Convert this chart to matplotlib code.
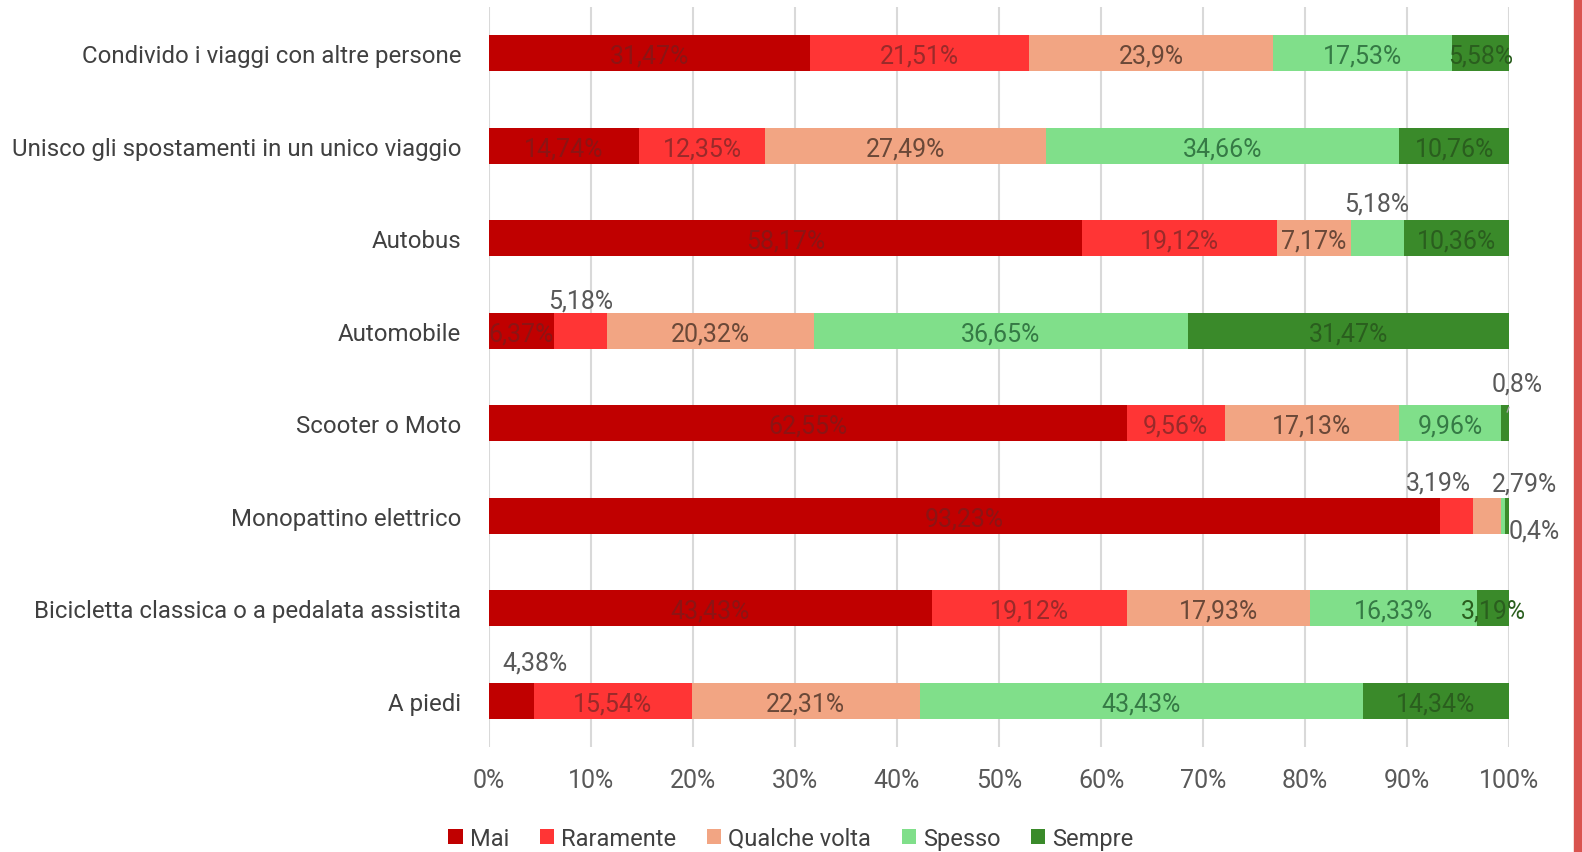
import numpy as np
import matplotlib.pyplot as plt
from matplotlib.patches import Rectangle

# Data (percentages per category)
categories = ['Condivido i viaggi con altre persone',
              'Unisco gli spostamenti in un unico viaggio',
              'Autobus',
              'Automobile',
              'Scooter o Moto',
              'Monopattino elettrico',
              'Bicicletta classica o a pedalata assistita',
              'A piedi']
series_names = ['Mai', 'Raramente', 'Qualche volta', 'Spesso', 'Sempre']
mai = [31.47, 14.74, 58.17, 6.37, 62.55, 93.23, 43.43, 4.38]
raramente = [21.51, 12.35, 19.12, 5.18, 9.56, 3.19, 19.12, 15.54]
qualche_volta = [23.9, 27.49, 7.17, 20.32, 17.13, 2.79, 17.93, 22.31]
spesso = [17.53, 34.66, 5.18, 36.65, 9.96, 0.4, 16.33, 43.43]
sempre = [5.58, 10.76, 10.36, 31.47, 0.8, 0.4, 3.19, 14.34]
x_ticks = [0, 10, 20, 30, 40, 50, 60, 70, 80, 90, 100]

colors = ['#c00000', '#ff3535', '#f2a583', '#80df8a', '#3a8a2a']
label_colors = ['#8c1414', '#9a2a2a', '#6a4838', '#357a45', '#2a5e1e']

# labels drawn outside the bar: (row, series) -> (dx in %, dy in rows)
outside = {
    (2, 3): (0, -0.40),
    (3, 1): (0, -0.35),
    (7, 0): (2.3, -0.44),
    (5, 1): (-1.8, -0.39),
    (5, 2): (3.7, -0.38),
    (5, 3): (3.0, 0.13),
}
hidden = {(5, 4)}

plt.rcParams['font.family'] = ['Roboto', 'DejaVu Sans']

fig = plt.figure(figsize=(15.82, 8.53), dpi=100)
ax = fig.add_axes([0.309, 0.1231, 0.645, 0.8675])

data = [mai, raramente, qualche_volta, spesso, sempre]
y = np.arange(len(categories))
left = np.zeros(len(categories))
for s, (name, vals) in enumerate(zip(series_names, data)):
    vals = np.array(vals)
    ax.barh(y, vals, left=left, height=0.39, color=colors[s], label=name, zorder=2)
    for i, v in enumerate(vals):
        cx = left[i] + v / 2
        lab = f"{v:g}%".replace('.', ',')
        if (i, s) in hidden:
            continue
        if (i, s) in outside:
            dx, dy = outside[(i, s)]
            ax.text(cx + dx, y[i] + dy, lab, ha='center', va='center_baseline',
                    fontsize=18, color='#595959', zorder=3)
        elif i == 4 and s == 4:
            # small value with leader line
            ax.annotate(lab, xy=(cx + 0.2, y[i] - 0.12), xytext=(cx + 1.2, y[i] - 0.46),
                        ha='center', va='center_baseline', fontsize=18, color='#595959',
                        arrowprops=dict(arrowstyle='-', color='#a6a6a6', lw=1,
                                        shrinkA=7, shrinkB=0), zorder=3)
        else:
            ax.text(cx, y[i], lab, ha='center', va='center_baseline', fontsize=18,
                    color=label_colors[s], zorder=3)
    left += vals

ax.set_xlim(0, 100)
ax.set_ylim(len(categories) - 0.5, -0.5)
ax.set_xticks(x_ticks)
ax.set_xticklabels([f"{t}%" for t in x_ticks], fontsize=18, color='#595959')
ax.set_yticks(y)
ax.set_yticklabels(categories, fontsize=17.3, color='#404040')
ax.tick_params(axis='both', length=0)
ax.tick_params(axis='y', pad=20)
ax.tick_params(axis='x', pad=15)
ax.grid(axis='x', color='#d9d9d9', linewidth=1.5, zorder=0)
for sp in ax.spines.values():
    sp.set_visible(False)

fig.legend(loc='center', bbox_to_anchor=(0.5, 0.0164), ncol=5, frameon=False,
           fontsize=17, handlelength=0.6, handleheight=0.6, handletextpad=0.3,
           columnspacing=1.3, labelcolor='#404040')

# red edge at the right of the picture
fig.patches.append(Rectangle((1574 / 1582, 0), 8 / 1582, 1, transform=fig.transFigure,
                             color='#d9534f', zorder=0))

plt.savefig('out.png', dpi=100)
